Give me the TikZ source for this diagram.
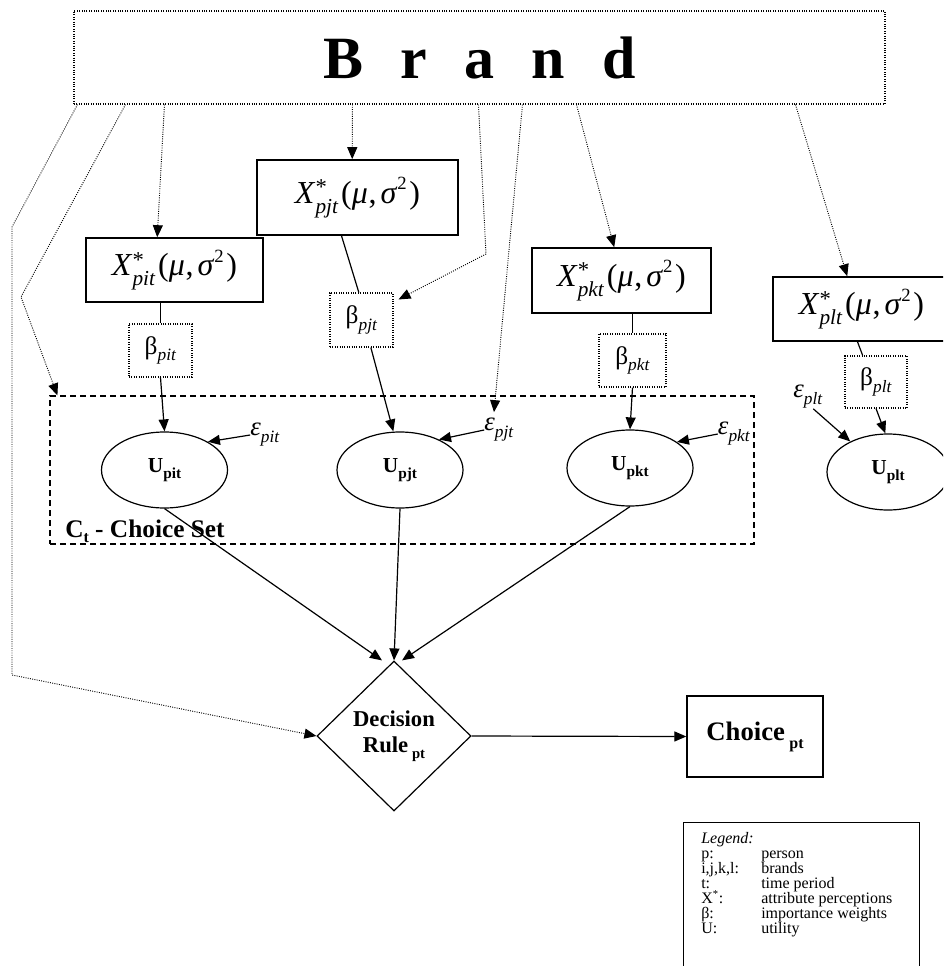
\documentclass[tikz,border=0pt]{standalone}
\usepackage{fontspec}
\setmainfont{Liberation Serif}
\usetikzlibrary{arrows.meta,shapes.geometric,calc}
\newcommand{\xlab}[1]{\fontsize{24}{24}\selectfont\textit{X}\rlap{\raisebox{0.26em}{\fontsize{17}{17}\selectfont *}}\raisebox{-0.32em}{\fontsize{16}{16}\selectfont\textit{#1}}\kern2pt(\textit{μ}\kern0.5pt,\kern3pt\textit{σ}\raisebox{0.42em}{\fontsize{14}{14}\selectfont 2}\kern2pt)}
\newcommand{\blab}[1]{\fontsize{19}{19}\selectfont β\raisebox{-0.26em}{\fontsize{13}{13}\selectfont\textit{#1}}}
\newcommand{\ulab}[1]{\fontsize{16}{16}\selectfont\bfseries U\raisebox{-0.25em}{\fontsize{11.5}{11.5}\selectfont #1}}
\newcommand{\elab}[1]{\fontsize{20}{20}\selectfont\textit{ε}\raisebox{-0.26em}{\fontsize{13}{13}\selectfont\textit{#1}}}
\tikzset{
  xbox/.style={draw, line width=1.2pt, inner sep=0pt},
  bbox/.style={draw, densely dotted, line width=0.8pt, inner sep=0pt},
  ubox/.style={draw, ellipse, line width=0.9pt, minimum width=94.5pt, minimum height=57pt, inner sep=0pt},
  dotarrow/.style={densely dotted, line width=0.7pt, -{Triangle[length=9pt,width=7.5pt]}},
  solarrow/.style={line width=0.9pt, -{Triangle[length=9pt,width=7.5pt]}},
  plainline/.style={line width=0.9pt},
  legtext/.style={anchor=base west, inner sep=0pt, font=\fontsize{12}{12}\selectfont},
}
\begin{document}
\begin{tikzpicture}[x=0.75pt,y=-0.75pt]
\useasboundingbox (0,0) rectangle (943,966);
\clip (0,0) rectangle (943,966);
\fill[white] (0,0) rectangle (943,966);

% Brand
\node[draw, densely dotted, line width=0.8pt, minimum width=608.25pt, minimum height=69.75pt, inner sep=0pt] (brand) at (479.5,57.5)
  {\raisebox{-3pt}{\fontsize{45}{45}\selectfont\bfseries B\hspace{28pt}r\hspace{28pt}a\hspace{28pt}n\hspace{28pt}d}};

% attribute boxes
\node[xbox, minimum width=150.75pt, minimum height=56.25pt] (xpj) at (357.5,197.5) {\xlab{pjt}};
\node[xbox, minimum width=132.75pt, minimum height=48pt] (xpi) at (174.5,270) {\xlab{pit}};
\node[xbox, minimum width=134.25pt, minimum height=48.75pt] (xpk) at (621.5,280.5) {\xlab{pkt}};
\node[xbox, minimum width=132.75pt, minimum height=48pt] (xpl) at (861.5,309) {\xlab{plt}};

% beta boxes
\node[bbox, minimum width=47.25pt, minimum height=39.75pt] (bpi) at (160.5,350.5) {\blab{pit}};
\node[bbox, minimum width=47.25pt, minimum height=40.5pt] (bpj) at (361.5,320) {\blab{pjt}};
\node[bbox, minimum width=50.25pt, minimum height=39.75pt] (bpk) at (632.5,360.5) {\blab{pkt}};
\node[bbox, minimum width=46.5pt, minimum height=39pt] (bpl) at (876,382) {\blab{plt}};

% choice set
\node[draw, dash pattern=on 4.5pt off 3pt, line width=0.9pt, minimum width=528pt, minimum height=111pt, inner sep=0pt] (ct) at (402,470) {};
\node[anchor=base west, inner sep=0pt] (ctlab) at (65,537)
  {\fontsize{19}{19}\selectfont\bfseries C\raisebox{-0.2em}{\fontsize{12}{12}\selectfont t} - Choice Set};

% utilities
\node[ubox] (upi) at (164.5,470) {\ulab{pit}};
\node[ubox] (upj) at (400,470) {\ulab{pjt}};
\node[ubox] (upk) at (630,468) {\ulab{pkt}};
\node[ubox, minimum width=91.5pt] (upl) at (888,472) {\ulab{plt}};

% errors
\node[inner sep=0pt] (epi) at (265,435) {\elab{pit}};
\node[inner sep=0pt] (epj) at (499,430) {\elab{pjt}};
\node[inner sep=0pt] (epk) at (734,434) {\elab{pkt}};
\node[inner sep=0pt] (epl) at (808,397) {\elab{plt}};

% decision and choice
\node[draw, diamond, aspect=1.03, minimum width=115.5pt, minimum height=112.5pt, inner sep=0pt, line width=0.9pt, align=center,
      font=\fontsize{17}{20}\selectfont\bfseries] (dr) at (394,736)
  {Decision\\Rule\,\raisebox{-0.25em}{\fontsize{11}{11}\selectfont pt}};
\node[draw, line width=1pt, minimum width=102pt, minimum height=60.75pt, inner sep=0pt] (ch) at (755,736.5)
  {\fontsize{20}{20}\selectfont\bfseries Choice\,\raisebox{-0.3em}{\fontsize{12}{12}\selectfont pt}};

% legend
\node[draw, line width=1pt, minimum width=177pt, minimum height=120pt, anchor=north west, inner sep=0pt] (leg) at (683,822) {};
\node[legtext] (lg0) at (701,843) {\textit{Legend:}};
\node[legtext] (lga1) at (701,858.5) {p:};
\node[legtext] (lgb1) at (761,858.5) {person};
\node[legtext] (lga2) at (701,873.5) {i,j,k,l:};
\node[legtext] (lgb2) at (761,873.5) {brands};
\node[legtext] (lga3) at (701,888.5) {t:};
\node[legtext] (lgb3) at (761,888.5) {time period};
\node[legtext] (lga4) at (701,903.5) {X\textsuperscript{*}:};
\node[legtext] (lgb4) at (761,903.5) {attribute perceptions};
\node[legtext] (lga5) at (701,918.5) {β:};
\node[legtext] (lgb5) at (761,918.5) {importance weights};
\node[legtext] (lga6) at (701,933.5) {U:};
\node[legtext] (lgb6) at (761,933.5) {utility};

% solid connectors
\draw[plainline] (xpi.south -| bpi.north) -- (bpi.north);
\draw[plainline] ([xshift=-12pt]xpj.south) -- ([xshift=-2pt]bpj.north);
\draw[plainline] (xpk.south -| bpk.north) -- (bpk.north);
\draw[plainline] ([xshift=-3pt]xpl.south) -- ([xshift=-10pt]bpl.north);

\draw[solarrow] (bpi.south) -- (upi.north);
\draw[solarrow] ([xshift=7pt]bpj.south) -- ([xshift=-5pt]upj.north);
\draw[solarrow] (bpk.south) -- (upk.north);
\draw[solarrow] (bpl.south) -- ([xshift=-2pt]upl.north);

\draw[solarrow] (epi.west) -- (upi.33);
\draw[solarrow] (epj.west) -- (upj.38);
\draw[solarrow] (epk.west) -- (upk.29);
\draw[solarrow] ([xshift=4pt]epl.south) -- (upl.141);

\draw[solarrow] (upi.south) -- ([xshift=-9pt]dr.north);
\draw[solarrow] (upj.south) -- (dr.north);
\draw[solarrow] (upk.south) -- ([xshift=6pt]dr.north);
\draw[solarrow] (dr.east) -- (ch.west);

% dotted connectors from brand
\coordinate (c1a) at (12,227);
\coordinate (c1b) at (12,675);
\coordinate (c2a) at (21,297);
\coordinate (c5) at (486,254);
\draw[dotarrow] ($(brand.south west)+(4,0)$) -- (c1a) -- (c1b) -- (dr.west);
\draw[dotarrow] ($(brand.south west)+(52,0)$) -- (c2a) -- ($(ct.north west)+(8,0)$);
\draw[dotarrow] ($(brand.south west)+(91,0)$) -- ($(xpi.north west)+(72,0)$);
\draw[dotarrow] ($(brand.south west)+(279,0)$) -- ($(xpj.north west)+(96,0)$);
\draw[dotarrow] ($(brand.south west)+(405,0)$) -- (c5) -- ($(bpj.north east)+(5,7)$);
\draw[dotarrow] ($(brand.south west)+(449,0)$) -- ($(epj.north)+(-5,-6)$);
\draw[dotarrow] ($(brand.south west)+(503,0)$) -- ($(xpk.north west)+(83,0)$);
\draw[dotarrow] ($(brand.south west)+(722,0)$) -- ($(xpl.north west)+(75,0)$);
\end{tikzpicture}
\end{document}
